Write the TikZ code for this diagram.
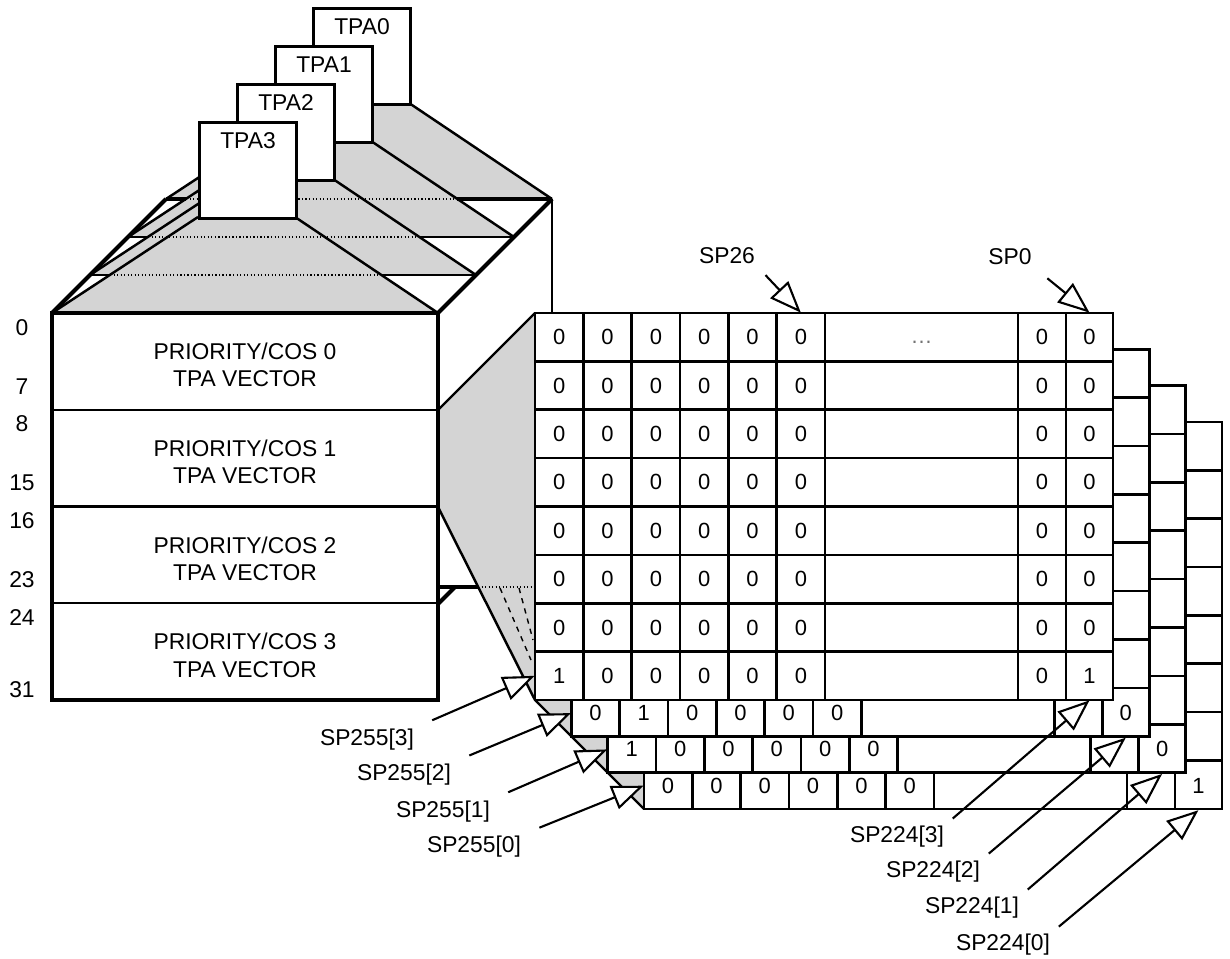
\documentclass[tikz,border=0pt]{standalone}
\usepackage{fontspec}
\setmainfont{Liberation Sans}
\usetikzlibrary{arrows.meta,positioning,calc}
\definecolor{planegray}{RGB}{212,212,212}

\begin{document}
\begin{tikzpicture}[x=0.02cm, y=-0.02cm,
    font=\fontsize{13}{15.5}\selectfont,
    boxline/.style={line width=2.4pt},
    edge/.style={line width=1.4pt},
    gridline/.style={line width=1.5pt},
    hidden/.style={line width=1.3pt, dash pattern=on 0.7pt off 1.3pt},
    card/.style={draw, line width=1.7pt, fill=white, minimum width=1.94cm, minimum height=1.92cm, inner sep=0pt, anchor=north west},
    cell/.style={minimum width=0.966cm, minimum height=0.9675cm, inner sep=0pt, font=\fontsize{12.5}{14}\selectfont},
    splabel/.style={inner sep=1pt},
    sparrow/.style={-{Triangle[length=18pt, width=14pt, fill=white]}, line width=1.2pt},
]
\useasboundingbox (0,0) rectangle (1230,959);

% Wedges from the TPA cards down to the layers of the box
\foreach \k/\d in {0/3,1/2,2/1,3/0} {
  \fill[planegray] ({198+38*\d},{217-38*\d}) -- ({295+38*\d},{217-38*\d}) -- ({438+38*\d},{313-38*\d}) -- ({52+38*\d},{313-38*\d}) -- cycle;
}

% Layer edges on the top face (dotted where seen through a wedge)
\draw[line width=1.9pt] (166,199) -- (186,199) (457,199) -- (552,199);
\draw[edge] (128,237) -- (148,237) (419,237) -- (514,237);
\draw[edge] (90,275) -- (110,275) (381,275) -- (476,275);
\draw[hidden] (186,199) -- (457,199) (148,237) -- (419,237) (110,275) -- (381,275);

\foreach \d in {3,2,1,0} {
  \draw[edge] ({198+38*\d},{217-38*\d}) -- ({52+38*\d},{313-38*\d});
  \draw[edge] ({295+38*\d},{217-38*\d}) -- ({438+38*\d},{313-38*\d});
}
\draw[boxline] (52,313) -- (166,199);
\draw[boxline] (438,313) -- (552,199);
\draw[gridline] (552,199) -- (552,313);

% TPA cards
\foreach \k/\d in {0/3,1/2,2/1,3/0} {
  \node[card] (tpa\k) at ({198+38*\d},{121-38*\d}) {};
  \node[anchor=north, inner sep=0pt] (tpa\k-label) at ([yshift=-0.22cm]tpa\k.north) {TPA\k};
}

% Projection of COS 1 onto the bitmaps
\fill[planegray] (438,410) -- (535,313) -- (644,313) -- (644,809) -- (535,700) -- (438,507) -- cycle;
\draw[hidden] (478,587) -- (535,587);
\draw[line width=0.8pt, dash pattern=on 3pt off 3pt] (500,588) -- (531,660) (519,588) -- (533,640);
\draw[boxline] (438,587) -- (478,587);
\draw[boxline] (438,604) -- (455,587);
\draw[edge] (438,410) -- (535,313);
\draw[edge] (438,507) -- (535,700) -- (644,809);

% SP bitmaps, back to front
\foreach \j in {3,2,1,0} {
  \begin{scope}[shift={({36.3*\j},{36.3*\j})}]
    \fill[white] (535,313) rectangle (1113,700);
    \draw[gridline] (535,313) rectangle (1113,700);
    \foreach \row in {1,...,7} \draw[gridline] (535,{313+48.375*\row}) -- (1113,{313+48.375*\row});
    \foreach \x in {583.3,631.7,680,728.3,776.7,825,1018,1066} \draw[gridline] (\x,313) -- (\x,700);
  \end{scope}
}

% bottom rows of the back bitmaps
\foreach \col/\xc in {1/559.15,2/607.5,3/655.85,4/704.15,5/752.5,6/800.85,9/1089.5} {
  \pgfmathtruncatemacro\va{\col==2 ? 1 : 0}
  \pgfmathtruncatemacro\vb{\col==1 ? 1 : 0}
  \pgfmathtruncatemacro\vc{\col==9 ? 1 : 0}
  \node[cell] (c-1-8-\col) at ({\xc+36.3},{676.8+36.3}) {\va};
  \node[cell] (c-2-8-\col) at ({\xc+72.6},{676.8+72.6}) {\vb};
  \node[cell] (c-3-8-\col) at ({\xc+108.9},{676.8+108.9}) {\vc};
}

% front bitmap
\foreach \row in {1,...,8} {
  \foreach \col/\xc in {1/559.15,2/607.5,3/655.85,4/704.15,5/752.5,6/800.85,8/1042,9/1089.5} {
    \pgfmathtruncatemacro\val{(\row==8 && (\col==1 || \col==9)) ? 1 : 0}
    \node[cell] (c-0-\row-\col) at (\xc,{313+48.375*(\row-0.5)}) {\val};
  }
}
\node[cell, minimum width=3.86cm, text=black!55] (c-0-1-7) at (921.5,342) {\ldots};

% Front face of the TPA box
\draw[boxline, fill=white] (52,313) rectangle (438,700);
\foreach \y in {409.75,506.5,603.25} \draw[edge] (52,\y) -- (438,\y);
\foreach \i in {0,...,3}
  \node[align=center] (cos\i) at (245,{365+96.75*\i}) {PRIORITY/COS \i\\TPA VECTOR};
\foreach \t/\y in {0/328,7/387,8/424,15/483,16/521,23/580,24/618,31/690}
  \node (row\t) at (22,\y) {\t};

% SP pointers
\node[splabel] (sp26) at (727,256) {SP26};
\node[splabel] (sp0) at (1010,257) {SP0};
\draw[sparrow, shorten <=7pt] (sp26.south east) -- (c-0-1-6.north);
\draw[sparrow, shorten <=10pt] (sp0.south east) -- (c-0-1-9.north);

\foreach \i/\x/\y in {3/367/740,2/404/775,1/443/812,0/474/847}
  \node[splabel] (sp255-\i) at (\x,\y) {SP255[\i]};
\foreach \i/\j in {3/0,2/1,1/2,0/3}
  \draw[sparrow, shorten <=10pt] (sp255-\i.north east) -- (c-\j-8-1.west);

\foreach \i/\x/\y in {3/897/837,2/933/872,1/972/908,0/1003/945}
  \node[splabel] (sp224-\i) at (\x,\y) {SP224[\i]};
\foreach \i/\j in {3/0,2/1,1/2,0/3}
  \draw[sparrow, shorten <=5pt] (sp224-\i.north east) -- (c-\j-8-9.south);
\end{tikzpicture}
\end{document}
